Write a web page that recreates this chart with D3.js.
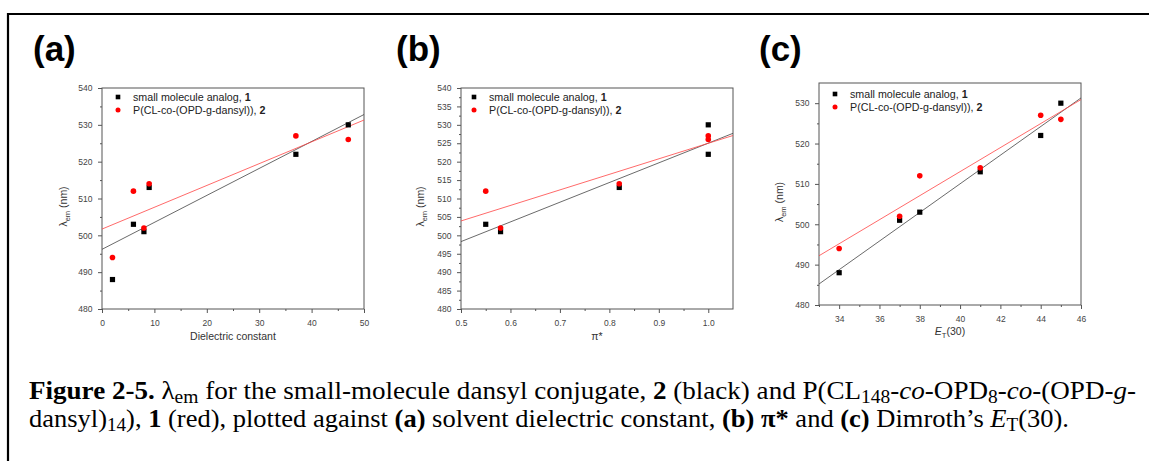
<!DOCTYPE html>
<html>
<head>
<meta charset="utf-8">
<script src="https://cdn.jsdelivr.net/npm/d3@7"></script>
<style>
  body { margin: 0; background: #fff; }
  svg { display: block; }
  .tick text { font-family: Arial, "Liberation Sans", sans-serif; }
</style>
</head>
<body>
<svg id="fig"></svg>
<script>
// ---- data ----
const legendNames = ["small molecule analog, ", "P(CL-co-(OPD-g-dansyl)), "];
const legendNums = ["1", "2"];

// (a) dielectric constant
const dielX = [2, 6, 8, 9, 37, 47];
const dielBlack = [488, 503, 501, 513, 522, 530];
const dielRed = [494, 512, 502, 514, 527, 526];
const dielFitBlack = [[0, 496.2], [50, 532.8]];
const dielFitRed = [[0, 501.7], [50, 531.3]];

// (b) pi*
const piX = [0.55, 0.58, 0.82, 1.0, 1.0];
const piBlack = [503, 501, 513, 530, 522];
const piRed = [512, 502, 514, 527, 526];
const piFitBlack = [[0.5, 498.3], [1.05, 527.7]];
const piFitRed = [[0.5, 503.9], [1.05, 527.1]];

// (c) ET(30)
const etX = [34, 37, 38, 41, 44, 45];
const etBlack = [488, 501, 503, 513, 522, 530];
const etRed = [494, 502, 512, 514, 527, 526];
const etFitBlack = [[33, 485.2], [46, 531.3]];
const etFitRed = [[33, 492.2], [46, 530.9]];

const W = 1149, H = 461;
const svg = d3.select("#fig").attr("width", W).attr("height", H);
const sans = "Arial, 'Liberation Sans', sans-serif";
const serif = "'Times New Roman', 'Liberation Serif', serif";

// frame of the figure (left and top edges visible)
svg.append("path")
    .attr("d", `M8,${H} V14 H${W}`)
    .attr("fill", "none")
    .attr("stroke", "#000")
    .attr("stroke-width", 2.2);

const panels = [
    {
        tag: "(a)", tagX: 33,
        box: { left: 102, right: 364, top: 88, bottom: 309 },
        xDomain: [0, 50], yDomain: [480, 540],
        xMajor: d3.range(0, 51, 10), xMinor: d3.range(5, 50, 10),
        yMajor: d3.range(480, 541, 10), yMinor: d3.range(485, 540, 10),
        xFmt: d3.format("d"),
        xs: dielX, blacks: dielBlack, reds: dielRed,
        xsRed: dielX,
        fitB: dielFitBlack, fitR: dielFitRed,
        legend: { x: 118, y: 97 },
        yLabelX: 67,
        xLabel: [{ t: "Dielectric constant" }], xLabelY: 340
    },
    {
        tag: "(b)", tagX: 396,
        box: { left: 461, right: 733, top: 88, bottom: 309 },
        xDomain: [0.5, 1.05], yDomain: [480, 540],
        xMajor: [0.5, 0.6, 0.7, 0.8, 0.9, 1.0], xMinor: [0.55, 0.65, 0.75, 0.85, 0.95],
        yMajor: d3.range(480, 541, 5), yMinor: d3.range(482.5, 540, 5),
        xFmt: d3.format(".1f"),
        xs: piX, blacks: piBlack, reds: piRed,
        xsRed: piX,
        fitB: piFitBlack, fitR: piFitRed,
        legend: { x: 474, y: 97 },
        yLabelX: 424,
        xLabel: [{ t: "π*" }], xLabelY: 340
    },
    {
        tag: "(c)", tagX: 759,
        box: { left: 819, right: 1081, top: 83, bottom: 305 },
        xDomain: [33, 46], yDomain: [480, 535],
        xMajor: d3.range(34, 47, 2), xMinor: d3.range(33, 46, 2),
        yMajor: d3.range(480, 531, 10), yMinor: d3.range(485, 535, 10),
        xFmt: d3.format("d"),
        xs: etX, blacks: etBlack, reds: etRed,
        xsRed: etX,
        fitB: etFitBlack, fitR: etFitRed,
        legend: { x: 835, y: 94 },
        yLabelX: 783,
        xLabel: [{ t: "E", i: true }, { t: "T", sub: true }, { t: "(30)" }], xLabelY: 335
    }
];

// writes pieces of rich text (bold / italic / subscript) as tspans
function richText(sel, parts, subShift) {
    let shifted = false;
    parts.forEach(p => {
        const ts = sel.append("tspan").text(p.t);
        if (p.b) ts.attr("font-weight", "bold");
        if (p.i) ts.attr("font-style", "italic");
        if (p.sub && !shifted) { ts.attr("dy", subShift).attr("font-size", "72%"); shifted = true; }
        else if (p.sub) ts.attr("font-size", "72%");
        else if (shifted) { ts.attr("dy", -subShift); shifted = false; }
    });
}

function drawPanel(p) {
    const b = p.box;
    const x = d3.scaleLinear().domain(p.xDomain).range([b.left, b.right]);
    const y = d3.scaleLinear().domain(p.yDomain).range([b.bottom, b.top]);
    const g = svg.append("g");

    // panel tag
    g.append("text")
        .attr("x", p.tagX).attr("y", 61)
        .attr("font-family", sans).attr("font-weight", "bold")
        .attr("font-size", 35)
        .text(p.tag);

    // axes: major ticks with labels, minor ticks without
    const xAxis = g.append("g").attr("transform", `translate(0,${b.bottom})`)
        .call(d3.axisBottom(x).tickValues(p.xMajor).tickFormat(p.xFmt).tickSize(4).tickSizeOuter(0));
    g.append("g").attr("transform", `translate(0,${b.bottom})`)
        .call(d3.axisBottom(x).tickValues(p.xMinor).tickFormat("").tickSize(2).tickSizeOuter(0));
    const yAxis = g.append("g").attr("transform", `translate(${b.left},0)`)
        .call(d3.axisLeft(y).tickValues(p.yMajor).tickSize(4).tickSizeOuter(0));
    g.append("g").attr("transform", `translate(${b.left},0)`)
        .call(d3.axisLeft(y).tickValues(p.yMinor).tickFormat("").tickSize(2).tickSizeOuter(0));
    g.selectAll(".domain").remove();
    g.selectAll(".tick line").attr("stroke", "#555");
    xAxis.selectAll("text").attr("font-size", 8.5).attr("fill", "#444").attr("dy", "1.2em");
    yAxis.selectAll("text").attr("font-size", 8.5).attr("fill", "#444").attr("dx", "-0.3em");

    // box
    g.append("rect")
        .attr("x", b.left).attr("y", b.top)
        .attr("width", b.right - b.left).attr("height", b.bottom - b.top)
        .attr("fill", "none").attr("stroke", "#555").attr("stroke-width", 1);

    // fitted lines
    const line = d3.line().x(d => x(d[0])).y(d => y(d[1]));
    g.append("path").datum(p.fitB).attr("d", line)
        .attr("fill", "none").attr("stroke", "#444").attr("stroke-width", 0.8);
    g.append("path").datum(p.fitR).attr("d", line)
        .attr("fill", "none").attr("stroke", "#f44").attr("stroke-width", 0.8);

    // points
    g.selectAll(".sq").data(p.blacks).join("rect")
        .attr("x", (d, i) => x(p.xs[i]) - 2.6)
        .attr("y", d => y(d) - 2.6)
        .attr("width", 5.2).attr("height", 5.2)
        .attr("fill", "#000");
    g.selectAll(".dot").data(p.reds).join("circle")
        .attr("cx", (d, i) => x(p.xsRed[i]))
        .attr("cy", d => y(d))
        .attr("r", 2.8)
        .attr("fill", "#f00");

    // legend
    const lg = g.append("g").attr("font-family", sans).attr("font-size", 10.7).attr("fill", "#222");
    lg.append("rect").attr("x", p.legend.x - 2.3).attr("y", p.legend.y - 2.3)
        .attr("width", 4.6).attr("height", 4.6).attr("fill", "#000");
    lg.append("circle").attr("cx", p.legend.x).attr("cy", p.legend.y + 13).attr("r", 2.5).attr("fill", "#f00");
    legendNames.forEach((name, i) => {
        const t = lg.append("text").attr("x", p.legend.x + 15).attr("y", p.legend.y + 13 * i + 4);
        richText(t, [{ t: name }, { t: legendNums[i], b: true }], 0);
    });

    // y label
    const yl = g.append("text")
        .attr("transform", `translate(${p.yLabelX},${(b.top + b.bottom) / 2 + 8}) rotate(-90)`)
        .attr("text-anchor", "middle")
        .attr("font-family", sans).attr("font-size", 10.5).attr("fill", "#333");
    richText(yl, [{ t: "λ" }, { t: "em", sub: true }, { t: " (nm)" }], 3);

    // x label
    const xl = g.append("text")
        .attr("x", (b.left + b.right) / 2).attr("y", p.xLabelY)
        .attr("text-anchor", "middle")
        .attr("font-family", sans).attr("font-size", 10.5).attr("fill", "#333");
    richText(xl, p.xLabel, 3);
}

panels.forEach(drawPanel);

// caption
const caption1 = [
    { t: "Figure 2-5.", b: true }, { t: " λ" }, { t: "em", sub: true },
    { t: " for the small-molecule dansyl conjugate, " }, { t: "2", b: true },
    { t: " (black) and P(CL" }, { t: "148", sub: true }, { t: "-" }, { t: "co", i: true },
    { t: "-OPD" }, { t: "8", sub: true }, { t: "-" }, { t: "co", i: true },
    { t: "-(OPD-" }, { t: "g", i: true }, { t: "-" }
];
const caption2 = [
    { t: "dansyl)" }, { t: "14", sub: true }, { t: "), " }, { t: "1", b: true },
    { t: " (red), plotted against " }, { t: "(a)", b: true },
    { t: " solvent dielectric constant, " }, { t: "(b) π*", b: true },
    { t: " and " }, { t: "(c)", b: true }, { t: " Dimroth’s " },
    { t: "E", i: true }, { t: "T", sub: true }, { t: "(30)." }
];
const captionWidths = [1107, 1040];
[caption1, caption2].forEach((parts, i) => {
    const t = svg.append("text")
        .attr("x", 29).attr("y", 399 + 28 * i)
        .attr("font-family", "'Liberation Serif', 'Times New Roman', serif")
        .attr("font-size", 25).attr("fill", "#000")
        .attr("textLength", captionWidths[i])
        .attr("lengthAdjust", "spacingAndGlyphs");
    richText(t, parts, 4);
});
</script>
</body>
</html>
